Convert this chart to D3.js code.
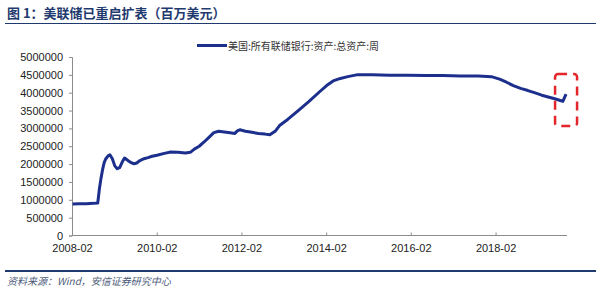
<!DOCTYPE html>
<html lang="zh">
<head>
<meta charset="utf-8">
<title>美联储已重启扩表</title>
<script src="https://d3js.org/d3.v7.min.js"></script>
<style>
  body { margin: 0; background: #fff; }
  svg { display: block; }
  .tick text { font-family: "Liberation Sans", Arial, sans-serif; font-size: 11px; fill: #222; }
</style>
</head>
<body>
<script>
// weekly Fed total assets (millions of USD)
var dates = ["2008-02-06","2008-04-02","2008-06-04","2008-08-06","2008-09-10","2008-09-24","2008-10-08","2008-10-22",
  "2008-11-05","2008-11-19","2008-12-10","2008-12-24","2009-01-14","2009-02-04","2009-02-25","2009-03-18","2009-04-08",
  "2009-04-29","2009-05-20","2009-06-10","2009-07-01","2009-07-22","2009-08-12","2009-09-09","2009-10-14","2009-11-18",
  "2009-12-23","2010-02-03","2010-04-07","2010-06-02","2010-08-04","2010-10-06","2010-11-17","2010-12-22","2011-02-02",
  "2011-03-16","2011-04-27","2011-06-08","2011-07-20","2011-09-07","2011-10-26","2011-12-07","2011-12-28","2012-01-18",
  "2012-03-07","2012-05-02","2012-06-27","2012-08-22","2012-10-03","2012-11-21","2012-12-26","2013-03-06","2013-06-05",
  "2013-09-04","2013-12-04","2014-02-05","2014-04-02","2014-06-04","2014-08-06","2014-10-22","2015-03-04","2015-08-05",
  "2016-01-06","2016-06-08","2016-11-02","2017-04-05","2017-09-06","2017-12-27","2018-03-07","2018-05-02","2018-07-04",
  "2018-09-05","2018-11-07","2019-01-02","2019-03-06","2019-05-01","2019-06-26","2019-08-14","2019-09-04","2019-09-18",
  "2019-10-02"];
var totalAssets = [0.88,0.89,0.89,0.90,0.91,1.30,1.60,1.85,
  2.05,2.15,2.24,2.26,2.15,1.95,1.87,1.90,2.05,
  2.17,2.12,2.07,2.03,2.01,2.03,2.10,2.15,2.18,
  2.22,2.25,2.30,2.34,2.33,2.31,2.33,2.42,2.50,
  2.62,2.75,2.88,2.92,2.90,2.88,2.86,2.93,2.96,
  2.92,2.89,2.86,2.84,2.82,2.93,3.08,3.25,3.50,
  3.75,4.02,4.20,4.33,4.40,4.45,4.50,4.50,4.49,
  4.49,4.48,4.48,4.47,4.47,4.45,4.38,4.30,4.20,
  4.12,4.06,4.00,3.93,3.88,3.83,3.78,3.76,3.86,
  3.96];

var yTicks = [0,500000,1000000,1500000,2000000,2500000,3000000,3500000,4000000,4500000,5000000];
var xTickLabels = ["2008-02","2010-02","2012-02","2014-02","2016-02","2018-02"];

var titleText = "图 1：美联储已重启扩表（百万美元）";
var legendText = "美国:所有联储银行:资产:总资产:周";
var sourceText = "资料来源：Wind，安信证券研究中心";

var W = 600, H = 289;
var navy = "#1c2f8c", rule = "#1f3a6e", axisGrey = "#8c8c8c";
var parse = d3.timeParse("%Y-%m-%d"), parseMonth = d3.timeParse("%Y-%m");

var series = dates.map(function(d, i) { return { date: parse(d), value: totalAssets[i] * 1e6 }; });

var svg = d3.select("body").append("svg").attr("width", W).attr("height", H);

// title + rules
svg.append("text").attr("x", 7).attr("y", 18)
  .attr("font-family", "'Noto Sans CJK SC', sans-serif").attr("font-size", 13).attr("font-weight", "bold")
  .attr("fill", rule).text(titleText);
svg.append("line").attr("x1", 5).attr("x2", 596).attr("y1", 23.5).attr("y2", 23.5)
  .attr("stroke", rule).attr("stroke-width", 1.2);
svg.append("line").attr("x1", 5).attr("x2", 596).attr("y1", 271).attr("y2", 271)
  .attr("stroke", rule).attr("stroke-width", 2);
svg.append("text").attr("x", 7).attr("y", 285)
  .attr("font-family", "'Noto Sans CJK SC', sans-serif").attr("font-size", 10).attr("font-style", "italic")
  .attr("fill", "#4d5a78").text(sourceText);

// scales
var x = d3.scaleTime().domain([parse("2008-02-01"), parse("2019-10-10")]).range([72, 567]);
var y = d3.scaleLinear().domain([0, 5000000]).range([235.5, 57]);

var yAxis = svg.append("g").attr("transform", "translate(72,0)")
  .call(d3.axisLeft(y).tickValues(yTicks).tickFormat(d3.format("d")).tickSize(3).tickPadding(6));
var xAxis = svg.append("g").attr("transform", "translate(0,235.5)")
  .call(d3.axisBottom(x).tickValues(xTickLabels.map(function(t) { return parseMonth(t); }))
    .tickFormat(d3.timeFormat("%Y-%m")).tickSizeInner(-3).tickSizeOuter(0).tickPadding(9));
[yAxis, xAxis].forEach(function(g) {
  g.selectAll("path, line").attr("stroke", axisGrey);
});
xAxis.select(".domain").attr("d", "M72,0H567");

// the series
var line = d3.line().x(function(d) { return x(d.date); }).y(function(d) { return y(d.value); });
svg.append("path").datum(series).attr("d", line)
  .attr("fill", "none").attr("stroke", navy).attr("stroke-width", 3).attr("stroke-linejoin", "round");

// legend
svg.append("line").attr("x1", 197).attr("x2", 227).attr("y1", 45.5).attr("y2", 45.5)
  .attr("stroke", navy).attr("stroke-width", 3);
svg.append("text").attr("x", 228).attr("y", 49.5)
  .attr("font-family", "'Noto Sans CJK SC', sans-serif").attr("font-size", 10)
  .attr("fill", "#333").text(legendText);

// red dashed highlight around the restart
var last = series[series.length - 1];
svg.append("rect").attr("x", x(last.date) - 11).attr("y", 74).attr("width", 22).attr("height", 52)
  .attr("rx", 3).attr("fill", "none").attr("stroke", "#e3262b").attr("stroke-width", 2.5)
  .attr("stroke-dasharray", "9,6");
</script>
</body>
</html>
